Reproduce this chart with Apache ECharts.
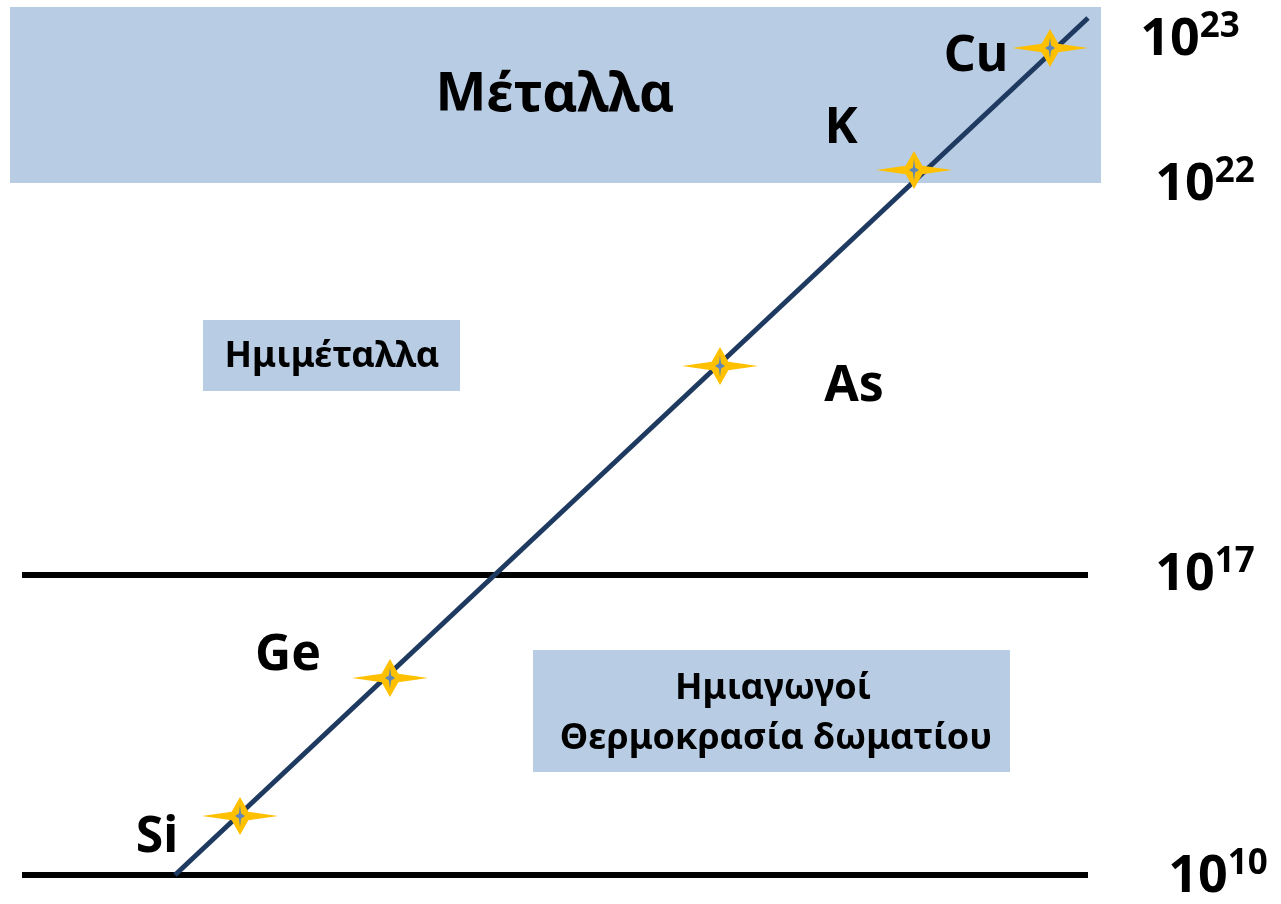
<!DOCTYPE html>
<html>
<head>
<meta charset="utf-8">
<script src="https://cdn.jsdelivr.net/npm/echarts@6/dist/echarts.min.js"></script>
<style>
  html, body { margin: 0; padding: 0; background: #fff; }
  #chart { width: 1281px; height: 904px; }
</style>
</head>
<body>
<div id="chart"></div>
<script>
// schematic diagram, coordinates on a 0..1281 x 0..904 canvas scale
const elements = ['Si', 'Ge', 'As', 'K', 'Cu']
const starX = [240, 390, 720, 914, 1050]
const starY = [816, 678, 366, 170, 48]
const labelX = [157, 288, 854, 841, 976]
const labelY = [838, 656, 387, 129, 57]

const trendLine = [[175, 875], [1088, 18]]
const levelLines = [575, 875]
const levelFrom = 22
const levelTo = 1088

const boxes = [
  [10, 7, 1101, 183],
  [203, 320, 460, 391],
  [533, 650, 1010, 772]
]
const boxTexts = ['Μέταλλα', 'Ημιμέταλλα', 'Ημιαγωγοί', 'Θερμοκρασία δωματίου']
const boxTextX = [555, 332, 773, 776]
const boxTextY = [96, 357, 689, 739]
const boxTextSize = [54, 36, 36, 36]

const exponents = ['23', '22', '17', '10']
const expX = [1190, 1205, 1205, 1218]
const expY = [40, 185, 575, 877]

const FONT = 'Noto Sans'
const star = 'path://M0,-1 L0.22,-0.22 L1,0 L0.22,0.22 L0,1 L-0.22,0.22 L-1,0 L-0.22,-0.22 Z'

const chart = echarts.init(document.getElementById('chart'))

const textLabel = {
  show: true,
  position: 'inside',
  formatter: '{b}',
  color: '#000',
  opacity: 1,
  textBorderWidth: 0,
  fontFamily: FONT,
  fontWeight: 'bold'
}

const option = {
  animation: false,
  grid: { left: 0, right: 0, top: 0, bottom: 0 },
  xAxis: { type: 'value', min: 0, max: 1281, show: false },
  yAxis: { type: 'value', min: 0, max: 904, inverse: true, show: false },
  series: [
    {
      type: 'custom',
      z: 1,
      data: boxes,
      renderItem: (params, api) => {
        const p0 = api.coord([api.value(0), api.value(1)])
        const p1 = api.coord([api.value(2), api.value(3)])
        return {
          type: 'rect',
          shape: { x: p0[0], y: p0[1], width: p1[0] - p0[0], height: p1[1] - p0[1] },
          style: { fill: '#b8cce4' }
        }
      }
    },
    ...levelLines.map((y) => ({
      type: 'line',
      z: 2,
      symbol: 'none',
      data: [[levelFrom, y], [levelTo, y]],
      lineStyle: { color: '#000', width: 6 }
    })),
    {
      type: 'line',
      z: 3,
      symbol: 'none',
      data: trendLine,
      lineStyle: { color: '#1f3a60', width: 5 }
    },
    {
      type: 'scatter',
      z: 4,
      symbol: star,
      symbolSize: [76, 38],
      itemStyle: { color: '#ffc000', opacity: 1 },
      data: starX.map((x, i) => [x, starY[i]])
    },
    {
      type: 'scatter',
      z: 5,
      symbol: star,
      symbolSize: [10, 22],
      itemStyle: { color: '#5f86b5', opacity: 1 },
      data: starX.map((x, i) => [x, starY[i]])
    },
    {
      // element names
      type: 'scatter',
      z: 6,
      symbolSize: 0,
      itemStyle: { opacity: 1 },
      data: elements.map((n, i) => ({ name: n, value: [labelX[i], labelY[i]] })),
      label: { ...textLabel, fontSize: 50 }
    },
    {
      // region titles
      type: 'scatter',
      z: 6,
      symbolSize: 0,
      itemStyle: { opacity: 1 },
      data: boxTexts.map((t, i) => ({
        name: t,
        value: [boxTextX[i], boxTextY[i]],
        label: { fontSize: boxTextSize[i] }
      })),
      label: textLabel
    },
    {
      // 10^n labels on the right
      type: 'scatter',
      z: 6,
      symbolSize: 0,
      itemStyle: { opacity: 1 },
      data: exponents.map((e, i) => ({ name: e, value: [expX[i], expY[i]] })),
      label: {
        show: true,
        position: 'inside',
        opacity: 1,
        formatter: (p) => '{b|10}{s|' + p.name + '}',
        rich: {
          b: { fontFamily: FONT, fontWeight: 'bold', fontSize: 52, color: '#000' },
          s: { fontFamily: FONT, fontWeight: 'bold', fontSize: 35, color: '#000', padding: [0, 0, 26, 0] }
        }
      }
    }
  ]
}

chart.setOption(option)
window.addEventListener('resize', () => chart.resize())
</script>
</body>
</html>
